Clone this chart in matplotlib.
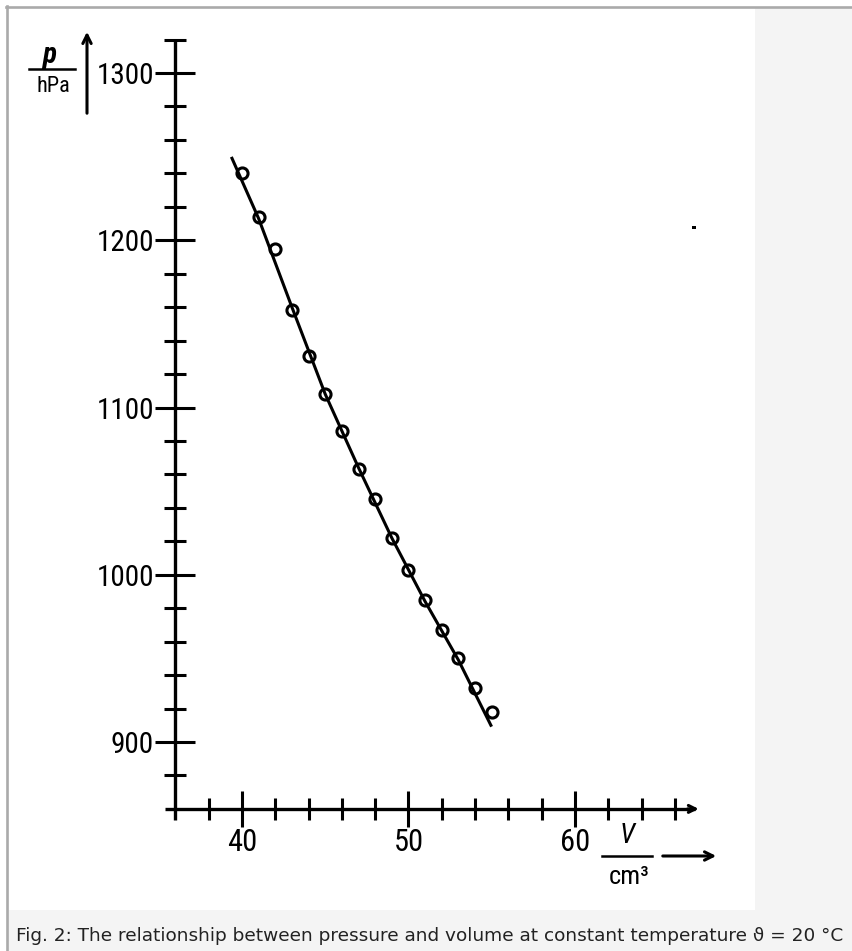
import matplotlib
matplotlib.use('Agg')
import matplotlib.pyplot as plt
from matplotlib import font_manager
from matplotlib.patches import Rectangle, FancyArrowPatch
from matplotlib.lines import Line2D

# measured points (V in cm3, p in hPa)
volume = [40, 41, 42, 43, 44, 45, 46, 47, 48, 49, 50, 51, 52, 53, 54, 55]
pressure = [1240, 1214, 1195, 1158, 1131, 1108, 1086, 1063, 1045, 1022, 1003, 985, 967, 950, 932, 918]

# hand drawn curve through the points
curve_volume = [39.4, 41, 43, 45, 47, 49, 51, 53, 54.95]
curve_pressure = [1249, 1213, 1160, 1108, 1064, 1022, 984, 949, 910]

x_major = [40, 50, 60]
x_minor = [38, 42, 44, 46, 48, 52, 54, 56, 58, 62, 64, 66]
y_major = [900, 1000, 1100, 1200, 1300]
y_minor = [880, 920, 940, 960, 980, 1020, 1040, 1060, 1080, 1120, 1140, 1160, 1180,
           1220, 1240, 1260, 1280, 1320]

caption = "Fig. 2: The relationship between pressure and volume at constant temperature \u03d1 = 20 \u00b0C"

W, H = 852, 951
fig = plt.figure(figsize=(W / 100, H / 100), dpi=100)
fig.patch.set_facecolor('white')


def fx(px):
    return px / W


def fy(py):
    return 1 - py / H


# narrow lettering if some condensed face is there, else Liberation Sans
installed = {f.name for f in font_manager.fontManager.ttflist}
narrow = [n for n in ['Liberation Sans Narrow', 'DejaVu Sans Condensed', 'Roboto Condensed']
          if n in installed]
if narrow:
    hand = [narrow[0], 'DejaVu Sans']
    xs, ys = 22, 21
else:
    hand = ['Liberation Sans', 'DejaVu Sans']
    xs, ys = 19, 18

# page background, white panel and grey frame
fig.add_artist(Rectangle((fx(8), 0), 1 - fx(8), fy(8), transform=fig.transFigure,
                         facecolor='#f4f4f4', edgecolor='none', zorder=-5))
fig.add_artist(Rectangle((fx(8), fy(910)), fx(755) - fx(8), fy(8) - fy(910),
                         transform=fig.transFigure, facecolor='white', edgecolor='none', zorder=-4))
fig.add_artist(Line2D([fx(7), fx(7)], [0, fy(6)], transform=fig.transFigure,
                      color='#aaaaaa', lw=1.9, zorder=-3))
fig.add_artist(Line2D([fx(6), 1], [fy(7), fy(7)], transform=fig.transFigure,
                      color='#aaaaaa', lw=1.9, zorder=-3))

ax = fig.add_axes([0, 0, 1, 1])
ax.patch.set_visible(False)
ax.set_xlim(25.466, 76.64)
ax.set_ylim(775.04, 1343.65)

for s in ['top', 'right']:
    ax.spines[s].set_visible(False)
ax.spines['left'].set_position(('data', 36))
ax.spines['left'].set_bounds(853.4, 1320)
ax.spines['bottom'].set_position(('data', 860))
ax.spines['bottom'].set_bounds(35.4, 67.2)
for s in ['left', 'bottom']:
    ax.spines[s].set_linewidth(2.4)
    ax.spines[s].set_capstyle('butt')

ax.set_xticks(x_major)
ax.set_xticks(x_minor, minor=True)
ax.set_yticks(y_major)
ax.set_yticks(y_minor, minor=True)
ax.set_xticklabels([str(v) for v in x_major])
ax.set_yticklabels([str(v) for v in y_major])

ax.tick_params(axis='x', which='major', direction='inout', length=26, width=2.2,
               pad=1, labelsize=xs, labelfontfamily=hand)
ax.tick_params(axis='x', which='minor', direction='inout', length=16, width=2.2)
ax.tick_params(axis='y', which='major', direction='inout', length=29, width=2.2,
               pad=1, labelsize=ys, labelfontfamily=hand)
ax.tick_params(axis='y', which='minor', direction='inout', length=16, width=2.2)

# arrow head on the V axis
ax.annotate('', xy=(67.6, 860), xytext=(66.6, 860),
            arrowprops=dict(arrowstyle='->,head_length=0.5,head_width=0.25', lw=2.2, color='black'))

ax.plot(curve_volume, curve_pressure, color='black', lw=2.2)
ax.plot(volume, pressure, 'o', ms=8, mfc='none', mec='black', mew=2.2)

# axis labels as fractions with arrows
fig.text(fx(49), fy(55), 'p', fontsize=21, fontweight='bold', fontstyle='italic',
         family=hand, ha='center', va='center')
fig.add_artist(Line2D([fx(29), fx(75)], [fy(69), fy(69)], transform=fig.transFigure,
                      color='black', lw=1.8))
fig.text(fx(53), fy(87), 'hPa', fontsize=16, family=hand, ha='center', va='center')
fig.add_artist(FancyArrowPatch((fx(87), fy(116)), (fx(87), fy(29)),
                               transform=fig.transFigure,
                               arrowstyle='->,head_length=6,head_width=3',
                               lw=2.2, color='black'))

fig.text(fx(627), fy(836), 'V', fontsize=20, fontstyle='italic', family=hand,
         ha='center', va='center')
fig.add_artist(Line2D([fx(602), fx(652)], [fy(856), fy(856)], transform=fig.transFigure,
                      color='black', lw=1.8))
fig.text(fx(629), fy(877), 'cm\u00b3', fontsize=19, family=hand, ha='center', va='center')
fig.add_artist(FancyArrowPatch((fx(660), fy(856)), (fx(719), fy(856)),
                               transform=fig.transFigure,
                               arrowstyle='->,head_length=6,head_width=3',
                               lw=2.2, color='black'))

# speck from the scan
fig.add_artist(Rectangle((fx(692), fy(229)), 4 / W, 3 / H, transform=fig.transFigure,
                         facecolor='black', edgecolor='none'))

fig.text(fx(16), fy(936), caption, fontsize=13.3, family='DejaVu Sans',
         color='#222222', ha='left', va='center')

fig.savefig('out.png', dpi=100)
